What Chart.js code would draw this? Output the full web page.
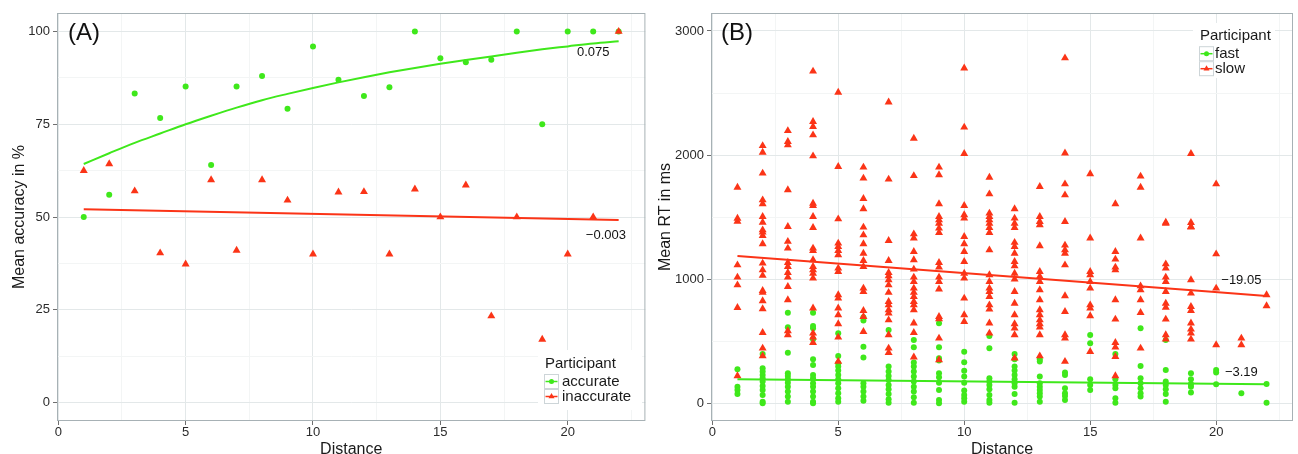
<!DOCTYPE html>
<html>
<head>
<meta charset="utf-8">
<script src="https://cdn.jsdelivr.net/npm/chart.js@4.4.1/dist/chart.umd.min.js"></script>
<style>
  body { margin: 0; background: #fff; }
  #wrap { position: relative; width: 1298px; height: 454px; }
  #wrap canvas { position: absolute; top: 0; }
</style>
</head>
<body>
<div id="wrap">
  <canvas id="chartA" width="650" height="454" style="left:0"></canvas>
  <canvas id="chartB" width="648" height="454" style="left:650px"></canvas>
</div>
<script>
/* valeurs */
var distance = [1, 2, 3, 4, 5, 6, 7, 8, 9, 10, 11, 12, 13, 14, 15, 16, 17, 18, 19, 20, 21, 22];

// (A) précision moyenne en %
var accuratePct   = [50, 56, 83.3, 76.7, 85.2, 64, 85.2, 88, 79.2, 96, 87, 82.6, 85, 100, 92.8, 91.7, 92.4, 100, 75, 100, 100, 100];
var inaccuratePct = [62.5, 64.3, 57, 40.3, 37.3, 60, 41, 60, 54.5, 40, 56.7, 56.8, 40, 57.5, 50, 58.6, 23.3, 50, 17, 40, 50, 100];
var accurateFit   = [64.3, 67.2, 70, 72.5, 75, 77.3, 79.5, 81.5, 83.2, 84.8, 86.3, 87.7, 89, 90.2, 91.3, 92.3, 93.3, 94.3, 95.2, 96, 96.8, 97.4];
var fitEnds       = [1, 22];
var inaccurateFit = [52.1, 49.2];

// (B) temps de réponse moyen en ms, une liste par distance
var slowRT = [
  [1740, 1490, 1465, 1114, 1015, 953, 770, 220],
  [2075, 2022, 1853, 1638, 1606, 1504, 1458, 1396, 1378, 1351, 1284, 1128, 1074, 1029, 908, 892, 825, 760, 569, 443, 381],
  [2196, 2108, 2081, 1719, 1423, 1303, 1249, 1133, 1101, 1053, 1015, 940, 833, 583, 551],
  [2675, 2269, 2229, 2162, 1992, 1611, 1593, 1504, 1415, 1249, 1230, 1155, 1101, 1074, 1047, 1007, 766, 564, 532, 489],
  [2505, 1907, 1485, 1289, 1262, 1230, 1195, 1088, 1061, 873, 846, 766, 712, 639, 532, 336],
  [1902, 1813, 1649, 1566, 1418, 1356, 1284, 1208, 1149, 1101, 927, 900, 746, 698, 577],
  [2427, 1805, 1311, 1149, 1053, 1026, 994, 953, 892, 819, 792, 752, 725, 671, 551, 443, 408],
  [2134, 1833, 1364, 1330, 1222, 1155, 1080, 1015, 980, 927, 892, 859, 819, 792, 752, 645, 569, 371],
  [1902, 1840, 1606, 1504, 1477, 1450, 1410, 1375, 1133, 1096, 1015, 980, 919, 698, 680, 524, 349],
  [2701, 2224, 2012, 1593, 1518, 1491, 1343, 1284, 1222, 1141, 1047, 1007, 846, 712, 658],
  [1820, 1686, 1531, 1504, 1477, 1450, 1415, 1375, 1235, 1034, 980, 927, 900, 859, 792, 757, 645, 564],
  [1566, 1491, 1450, 1415, 1295, 1262, 1208, 1141, 1106, 1047, 999, 900, 805, 712, 639, 604, 551, 363],
  [1745, 1504, 1464, 1437, 1268, 1061, 1021, 980, 913, 833, 752, 712, 671, 639, 612, 551, 381],
  [2782, 2015, 1767, 1678, 1464, 1273, 1235, 1208, 1114, 865, 738, 551, 524, 336],
  [1848, 1330, 1061, 1034, 980, 927, 792, 766, 704, 416],
  [1606, 1222, 1160, 1096, 1074, 833, 677, 489, 451, 376, 220],
  [1829, 1740, 1330, 945, 913, 833, 730, 443],
  [1458, 1450, 1122, 1088, 1015, 980, 900, 805, 773, 677, 551, 516],
  [2011, 1455, 1423, 1418, 994, 886, 779, 746, 645, 596, 564, 516],
  [1767, 1203, 927, 470],
  [524, 470],
  [873, 784]
];
var fastRT = [
  [274, 134, 107, 75],
  [397, 282, 255, 228, 201, 175, 140, 107, 67, 13, 0],
  [730, 612, 408, 242, 220, 193, 166, 134, 94, 54, 13],
  [730, 623, 604, 516, 354, 309, 228, 201, 161, 134, 94, 54, 13, 0],
  [564, 381, 322, 296, 263, 228, 193, 161, 121, 80, 40, 13],
  [693, 666, 456, 368, 161, 134, 94, 54, 21],
  [591, 296, 255, 220, 188, 148, 113, 75, 32, 5],
  [510, 451, 328, 296, 255, 215, 175, 134, 94, 48, 5],
  [645, 451, 363, 344, 242, 210, 166, 107, 27, 0],
  [416, 330, 261, 215, 166, 102, 67, 40, 13],
  [542, 443, 201, 175, 148, 113, 67, 27, 5],
  [397, 354, 296, 263, 228, 193, 161, 134, 75, 5],
  [354, 336, 215, 161, 134, 107, 80, 54, 13],
  [247, 228, 121, 80, 59, 27],
  [551, 484, 193, 148, 107],
  [397, 193, 148, 121, 40, 5],
  [604, 301, 201, 161, 121, 80, 54],
  [510, 269, 175, 148, 113, 75, 13],
  [242, 193, 156, 134, 86],
  [269, 247, 153],
  [80],
  [156, 5]
];
var slowFit = [1187, 865];
var fastFit = [193, 153];

// axes
var xRange = [-0.05, 23.05];
var xTicks = [0, 5, 10, 15, 20];
var xMinor = [2.5, 7.5, 12.5, 17.5, 22.5];
var yRangeA = [-5, 105];
var yTicksA = [0, 25, 50, 75, 100];
var yMinorA = [12.5, 37.5, 62.5, 87.5];
var yRangeB = [-143, 3145];
var yTicksB = [0, 1000, 2000, 3000];
var yMinorB = [500, 1500, 2500];

// étiquettes de pente
var slopeTextA = ['0.075', '\u22120.003'];
var slopeAtA   = [[21.0, 94.4], [21.5, 45.0]];
var slopeTextB = ['\u221219.05', '\u22123.19'];
var slopeAtB   = [[21.0, 993], [21.0, 247]];

var GREEN = '#3fe81b';
var RED = '#fb3417';
Chart.defaults.font.family = '"Liberation Sans", Arial, sans-serif';

function toPoints(xs, ys) {
  return xs.map(function (x, i) { return {x: x, y: ys[i]}; });
}
function groupPoints(groups) {
  var pts = [];
  groups.forEach(function (vals, i) {
    vals.forEach(function (v) { pts.push({x: distance[i], y: v}); });
  });
  return pts;
}

function axis(range, major, minor, title, size, titlePad, tickPad) {
  var isMajor = function (v) { return major.indexOf(v) >= 0; };
  return {
    type: 'linear',
    min: range[0],
    max: range[1],
    afterBuildTicks: function (s) {
      s.ticks = major.concat(minor).filter(function (v) { return v >= range[0] && v <= range[1]; })
        .sort(function (a, b) { return a - b; })
        .map(function (v) { return {value: v}; });
    },
    afterFit: function (s) {
      if (s.isHorizontal()) s.height = size; else s.width = size;
    },
    ticks: {
      autoSkip: false, maxRotation: 0, padding: tickPad,
      color: '#2b2b2b', font: {size: 13},
      callback: function (v) { return isMajor(v) ? String(v) : ''; }
    },
    grid: {
      lineWidth: 1, tickLength: 4,
      color: function (c) { return c.tick && isMajor(c.tick.value) ? '#e3e8e9' : '#f3f5f5'; },
      tickColor: function (c) { return c.tick && isMajor(c.tick.value) ? '#6f6f6f' : 'rgba(0,0,0,0)'; }
    },
    border: {display: false},
    title: {display: true, text: title, color: '#1a1a1a', font: {size: 16, lineHeight: 0.6}, padding: titlePad}
  };
}

// cadre, lettre du panneau, pentes et légende
function decor(o) {
  return {
    id: 'decor',
    afterDatasetsDraw: function (chart) {
      var ctx = chart.ctx, a = chart.chartArea, xs = chart.scales.x, ys = chart.scales.y;
      ctx.save();
      ctx.strokeStyle = '#a7b1b5';
      ctx.lineWidth = 1;
      ctx.strokeRect(a.left + 0.5, a.top + 0.5, a.right - a.left - 1, a.bottom - a.top - 1);

      ctx.fillStyle = '#111';
      ctx.textBaseline = 'middle';
      ctx.textAlign = 'left';
      ctx.font = '24px "Liberation Sans", Arial, sans-serif';
      ctx.fillText(o.panel, a.left + o.panelDx, a.top + 20);

      ctx.font = '13px "Liberation Sans", Arial, sans-serif';
      ctx.textAlign = 'center';
      o.slopeText.forEach(function (t, i) {
        ctx.fillText(t, xs.getPixelForValue(o.slopeAt[i][0]), ys.getPixelForValue(o.slopeAt[i][1]));
      });

      var L = o.legend;
      ctx.fillStyle = '#fff';
      ctx.fillRect(L.bg[0], L.bg[1], L.bg[2], L.bg[3]);
      ctx.fillStyle = '#1a1a1a';
      ctx.textAlign = 'left';
      ctx.font = '15px "Liberation Sans", Arial, sans-serif';
      ctx.fillText('Participant', L.titleX, L.titleY);
      chart.data.datasets.filter(function (d) { return !d.showLine; }).reverse().forEach(function (d, i) {
        var cy = L.keyY + i * 15, kx = L.keyX;
        ctx.fillStyle = '#fff';
        ctx.strokeStyle = '#cdd5d8';
        ctx.fillRect(kx, cy - 7.5, 15, 15);
        ctx.strokeRect(kx + 0.5, cy - 7, 14, 14);
        ctx.strokeStyle = d.pointBackgroundColor;
        ctx.lineWidth = 1.5;
        ctx.beginPath(); ctx.moveTo(kx + 1.5, cy); ctx.lineTo(kx + 13.5, cy); ctx.stroke();
        ctx.lineWidth = 1;
        ctx.fillStyle = d.pointBackgroundColor;
        ctx.beginPath();
        if (d.pointStyle === 'triangle') {
          ctx.moveTo(kx + 7.5, cy - 3.5); ctx.lineTo(kx + 10.5, cy + 1.8); ctx.lineTo(kx + 4.5, cy + 1.8);
        } else {
          ctx.arc(kx + 7.5, cy, 2.5, 0, Math.PI * 2);
        }
        ctx.fill();
        ctx.fillStyle = '#1a1a1a';
        ctx.fillText(d.label, L.textX, cy);
      });
      ctx.restore();
    }
  };
}

function fitLine(xs, ys, color) {
  return {label: 'fit', data: toPoints(xs, ys), showLine: true, borderColor: color, borderWidth: 2,
          pointRadius: 0, cubicInterpolationMode: 'monotone', order: 0};
}
function pointSet(label, pts, color, style, r, order) {
  return {label: label, data: pts, showLine: false, pointStyle: style, pointRadius: r,
          pointBackgroundColor: color, pointBorderWidth: 0, order: order};
}

/* Panneau A : précision */
var chartA = new Chart(document.getElementById('chartA'), {
  type: 'scatter',
  data: {
    datasets: [
      fitLine(distance, accurateFit, GREEN),
      fitLine(fitEnds, inaccurateFit, RED),
      pointSet('inaccurate', toPoints(distance, inaccuratePct), RED, 'triangle', 4.6, 1),
      pointSet('accurate', toPoints(distance, accuratePct), GREEN, 'circle', 3, 2)
    ]
  },
  options: {
    responsive: false,
    animation: false,
    layout: {padding: {left: 0, top: 13, right: 4, bottom: 0}},
    scales: {
      x: axis(xRange, xTicks, xMinor, 'Distance', 33, {top: 0, bottom: 0}, 0),
      y: axis(yRangeA, yTicksA, yMinorA, 'Mean accuracy in %', 57, {top: 15, bottom: 0}, 3)
    },
    plugins: {legend: {display: false}, tooltip: {enabled: false}}
  },
  plugins: [decor({
    panel: '(A)', panelDx: 11, slopeText: slopeTextA, slopeAt: slopeAtA,
    legend: {bg: [538, 350, 104, 60], titleX: 545, titleY: 363.5, keyX: 544, keyY: 381.5, textX: 562}
  })]
});

/* Panneau B : temps de réponse */
var chartB = new Chart(document.getElementById('chartB'), {
  type: 'scatter',
  data: {
    datasets: [
      fitLine(fitEnds, slowFit, RED),
      fitLine(fitEnds, fastFit, GREEN),
      pointSet('slow', groupPoints(slowRT), RED, 'triangle', 4.6, 1),
      pointSet('fast', groupPoints(fastRT), GREEN, 'circle', 3, 2)
    ]
  },
  options: {
    responsive: false,
    animation: false,
    layout: {padding: {left: 0, top: 13, right: 5, bottom: 0}},
    scales: {
      x: axis(xRange, xTicks, xMinor, 'Distance', 33, {top: 0, bottom: 0}, 0),
      y: axis(yRangeB, yTicksB, yMinorB, 'Mean RT in ms', 61, {top: 11, bottom: 0}, 3)
    },
    plugins: {legend: {display: false}, tooltip: {enabled: false}}
  },
  plugins: [decor({
    panel: '(B)', panelDx: 10, slopeText: slopeTextB, slopeAt: slopeAtB,
    legend: {bg: [543, 23, 82, 55], titleX: 550, titleY: 35.5, keyX: 549, keyY: 53.7, textX: 565}
  })]
});
</script>
</body>
</html>
